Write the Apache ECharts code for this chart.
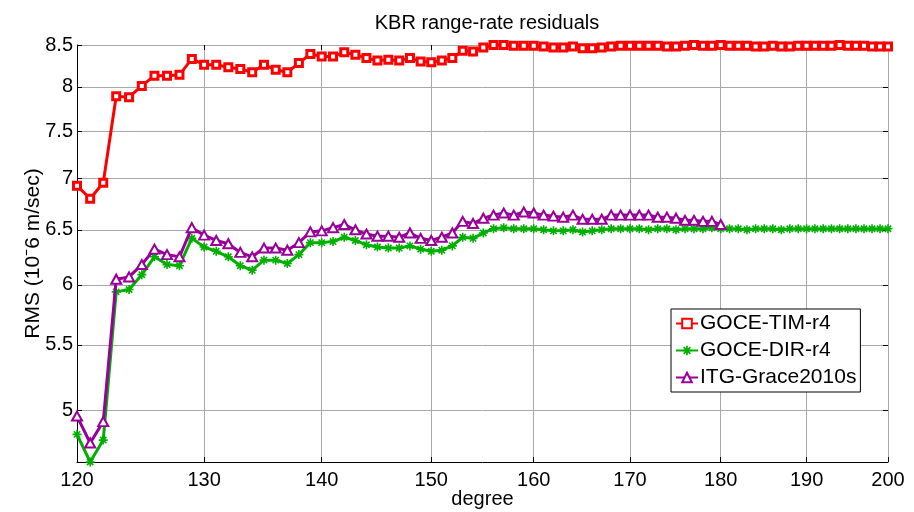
<!DOCTYPE html>
<html>
<head>
<meta charset="utf-8">
<script src="https://cdn.jsdelivr.net/npm/echarts@6/dist/echarts.min.js"></script>
<style>
  html, body { margin: 0; padding: 0; background: #fff; }
  #chart { width: 914px; height: 512px; }
</style>
</head>
<body>
<div id="chart"></div>
<script>
// degree axis (log scale in the original)
const degrees = [120,121,122,123,124,125,126,127,128,129,130,131,132,133,134,135,136,137,138,139,
  140,141,142,143,144,145,146,147,148,149,150,151,152,153,154,155,156,157,158,159,
  160,161,162,163,164,165,166,167,168,169,170,171,172,173,174,175,176,177,178,179,
  180,181,182,183,184,185,186,187,188,189,190,191,192,193,194,195,196,197,198,199,200];

const timR4 = [6.93,6.80,6.96,7.89,7.88,8.01,8.13,8.13,8.14,8.33,8.26,8.26,8.23,8.21,8.17,8.26,8.20,8.17,8.28,8.39,
  8.36,8.36,8.41,8.38,8.34,8.31,8.32,8.31,8.34,8.30,8.29,8.31,8.34,8.43,8.42,8.47,8.50,8.50,8.49,8.49,
  8.49,8.48,8.47,8.47,8.48,8.46,8.46,8.47,8.48,8.49,8.49,8.49,8.49,8.49,8.48,8.48,8.49,8.50,8.49,8.49,
  8.50,8.49,8.49,8.49,8.48,8.48,8.49,8.48,8.48,8.49,8.49,8.49,8.49,8.49,8.50,8.49,8.49,8.49,8.48,8.48,8.48];

const dirR4 = [4.83,4.64,4.79,5.94,5.96,6.09,6.25,6.18,6.17,6.42,6.34,6.30,6.25,6.17,6.13,6.22,6.22,6.19,6.27,6.38,
  6.38,6.39,6.43,6.40,6.36,6.34,6.33,6.33,6.35,6.32,6.30,6.31,6.35,6.43,6.42,6.47,6.51,6.52,6.51,6.51,
  6.51,6.50,6.49,6.49,6.50,6.48,6.49,6.50,6.51,6.51,6.51,6.51,6.50,6.51,6.51,6.50,6.51,6.51,6.51,6.52,
  6.51,6.51,6.51,6.50,6.51,6.51,6.51,6.50,6.51,6.51,6.51,6.51,6.51,6.51,6.51,6.51,6.51,6.51,6.51,6.51,6.51];

const itg2010s = [4.96,4.77,4.92,6.05,6.07,6.18,6.32,6.27,6.25,6.52,6.45,6.40,6.37,6.29,6.25,6.33,6.33,6.31,6.38,6.48,
  6.49,6.52,6.55,6.50,6.46,6.44,6.44,6.43,6.47,6.42,6.40,6.43,6.47,6.58,6.56,6.61,6.64,6.66,6.64,6.67,
  6.66,6.64,6.63,6.62,6.64,6.60,6.60,6.60,6.64,6.64,6.64,6.64,6.64,6.62,6.62,6.61,6.59,6.59,6.58,6.58,6.55];

const xTicks = [120,130,140,150,160,170,180,190,200];
const yTicks = [5,5.5,6,6.5,7,7.5,8,8.5];

const seriesNames = ['GOCE-TIM-r4', 'GOCE-DIR-r4', 'ITG-Grace2010s'];

const asterisk = 'path://M-0.9,-5L0.9,-5L0.9,5L-0.9,5Z' +
  'M-5,-0.9L5,-0.9L5,0.9L-5,0.9Z' +
  'M-2.86,-4.14L4.14,2.86L2.86,4.14L-4.14,-2.86Z' +
  'M-4.14,2.86L2.86,-4.14L4.14,-2.86L-2.86,4.14Z';

const pairs = (vals) => vals.map((v, i) => [degrees[i], v]);

const font = 'Liberation Sans';
const chart = echarts.init(document.getElementById('chart'));

const tickStyle = { inside: true, length: 5, lineStyle: { color: '#000' } };

chart.setOption({
  animation: false,
  textStyle: { fontFamily: font },
  title: {
    text: 'KBR range-rate residuals',
    left: 482,
    textAlign: 'center',
    top: 8,
    textStyle: { fontFamily: font, fontSize: 20, fontWeight: 'normal', color: '#000' }
  },
  grid: { left: 77, right: 26, top: 45, bottom: 50, containLabel: false, outerBoundsMode: 'none' },
  legend: {
    orient: 'vertical',
    left: 671,
    top: 309,
    itemWidth: 22,
    itemHeight: 12,
    itemGap: 6,
    padding: [4, 4, 4, 4],
    backgroundColor: '#fff',
    borderColor: '#000',
    borderWidth: 1,
    borderRadius: 0,
    textStyle: { fontFamily: font, fontSize: 21, color: '#000', padding: [0, 0, 0, -3] },
    data: seriesNames
  },
  xAxis: [{
    type: 'log',
    min: 120,
    max: 200,
    name: 'degree',
    nameLocation: 'middle',
    nameGap: 27,
    nameMoveOverlap: false,
    nameTextStyle: { fontFamily: font, fontSize: 20, color: '#000' },
    axisLine: { lineStyle: { color: '#000', width: 1 } },
    axisTick: Object.assign({ customValues: xTicks }, tickStyle),
    axisLabel: { fontFamily: font, fontSize: 20, color: '#000', margin: 8, customValues: xTicks,
      formatter: (v) => String(Math.round(v)) },
    splitLine: { show: true, lineStyle: { color: '#a8a8a8', width: 1 } }
  }, {
    type: 'log',
    position: 'top',
    min: 120,
    max: 200,
    axisLine: { show: false },
    axisTick: Object.assign({ customValues: xTicks }, tickStyle),
    axisLabel: { show: false },
    splitLine: { show: false }
  }],
  yAxis: [{
    type: 'log',
    min: 4.64,
    max: 8.5,
    name: 'RMS (10\u207B6 m/sec)',
    nameLocation: 'middle',
    nameGap: 33,
    nameMoveOverlap: false,
    nameTextStyle: { fontFamily: font, fontSize: 21, color: '#000' },
    axisLine: { show: true, lineStyle: { color: '#000', width: 1 } },
    axisTick: Object.assign({ show: true, customValues: yTicks }, tickStyle),
    axisLabel: { fontFamily: font, fontSize: 20, color: '#000', margin: 4, customValues: yTicks,
      formatter: (v) => String(Math.round(v * 10) / 10) },
    splitLine: { show: true, lineStyle: { color: '#a8a8a8', width: 1 } }
  }, {
    type: 'log',
    position: 'right',
    min: 4.64,
    max: 8.5,
    axisLine: { show: false },
    axisTick: Object.assign({ show: true, customValues: yTicks }, tickStyle),
    axisLabel: { show: false },
    splitLine: { show: false }
  }],
  series: [
    {
      name: seriesNames[0],
      type: 'line',
      data: pairs(timR4),
      symbol: 'rect',
      symbolSize: 7,
      lineStyle: { color: '#ff0000', width: 3 },
      itemStyle: { color: '#ffffff', borderColor: '#ff0000', borderWidth: 3 },
      z: 3
    },
    {
      name: seriesNames[1],
      type: 'line',
      data: pairs(dirR4),
      symbol: asterisk,
      symbolSize: 9,
      lineStyle: { color: '#00b000', width: 3 },
      itemStyle: { color: '#00b000', borderWidth: 0 },
      z: 2
    },
    {
      name: seriesNames[2],
      type: 'line',
      data: pairs(itg2010s),
      symbol: 'triangle',
      symbolSize: [10, 9],
      lineStyle: { color: '#990099', width: 3 },
      itemStyle: { color: '#ffffff', borderColor: '#990099', borderWidth: 2 },
      z: 4
    }
  ]
});
</script>
</body>
</html>
